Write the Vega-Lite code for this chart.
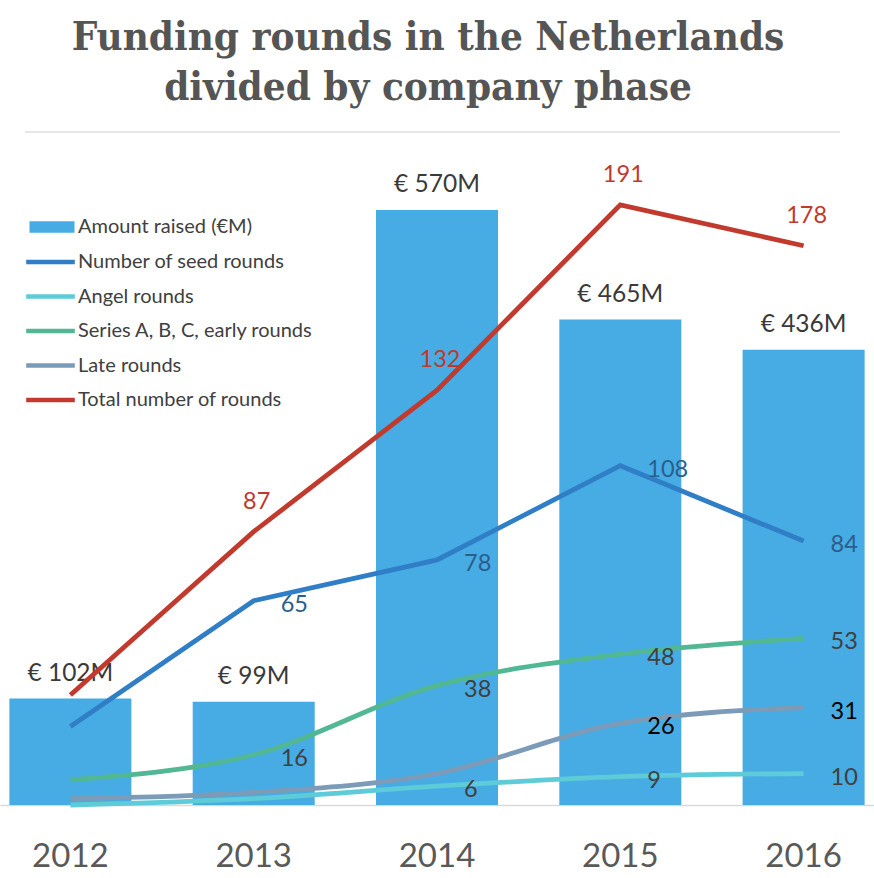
{
  "$schema": "https://vega.github.io/schema/vega-lite/v6.json",
  "autosize": "none",
  "width": 874,
  "height": 673,
  "padding": {"left": 0, "right": 0, "top": 132, "bottom": 73},
  "title": {
    "text": ["Funding rounds in the Netherlands", "divided by company phase"],
    "font": "DejaVu Serif Condensed, DejaVu Serif",
    "fontSize": 40,
    "fontWeight": "bold",
    "color": "#555555",
    "anchor": "middle",
    "frame": "group",
    "dx": -9,
    "dy": 41,
    "lineHeight": 50,
    "baseline": "alphabetic",
    "offset": 32
  },
  "datasets": {
    "amounts": [
      {"year": "2012", "amount": 102, "label": "€ 102M", "legend": "Amount raised (€M)"},
      {"year": "2013", "amount": 99, "label": "€ 99M", "legend": "Amount raised (€M)"},
      {"year": "2014", "amount": 570, "label": "€ 570M", "legend": "Amount raised (€M)"},
      {"year": "2015", "amount": 465, "label": "€ 465M", "legend": "Amount raised (€M)"},
      {"year": "2016", "amount": 436, "label": "€ 436M", "legend": "Amount raised (€M)"}
    ],
    "rounds": [
      {"year": "2012", "series": "Number of seed rounds", "value": 25},
      {"year": "2013", "series": "Number of seed rounds", "value": 65},
      {"year": "2014", "series": "Number of seed rounds", "value": 78},
      {"year": "2015", "series": "Number of seed rounds", "value": 108},
      {"year": "2016", "series": "Number of seed rounds", "value": 84},
      {"year": "2012", "series": "Angel rounds", "value": 0},
      {"year": "2013", "series": "Angel rounds", "value": 2},
      {"year": "2014", "series": "Angel rounds", "value": 6},
      {"year": "2015", "series": "Angel rounds", "value": 9},
      {"year": "2016", "series": "Angel rounds", "value": 10},
      {"year": "2012", "series": "Series A, B, C, early  rounds", "value": 8},
      {"year": "2013", "series": "Series A, B, C, early  rounds", "value": 16},
      {"year": "2014", "series": "Series A, B, C, early  rounds", "value": 38},
      {"year": "2015", "series": "Series A, B, C, early  rounds", "value": 48},
      {"year": "2016", "series": "Series A, B, C, early  rounds", "value": 53},
      {"year": "2012", "series": "Late rounds", "value": 2},
      {"year": "2013", "series": "Late rounds", "value": 4},
      {"year": "2014", "series": "Late rounds", "value": 10},
      {"year": "2015", "series": "Late rounds", "value": 26},
      {"year": "2016", "series": "Late rounds", "value": 31},
      {"year": "2012", "series": "Total number of rounds", "value": 35},
      {"year": "2013", "series": "Total number of rounds", "value": 87},
      {"year": "2014", "series": "Total number of rounds", "value": 132},
      {"year": "2015", "series": "Total number of rounds", "value": 191},
      {"year": "2016", "series": "Total number of rounds", "value": 178}
    ]
  },
  "encoding": {
    "x": {
      "field": "year",
      "type": "ordinal",
      "scale": {"paddingInner": 0.3344, "paddingOuter": 0.0512},
      "axis": {
        "title": null,
        "ticks": false,
        "tickSize": 0,
        "grid": false,
        "domainColor": "#d9d9d9",
        "domainWidth": 1.5,
        "labelAngle": 0,
        "labelFont": "Lato",
        "labelFontSize": 33,
        "labelColor": "#595959",
        "labelBaseline": "alphabetic",
        "labelPadding": 61
      }
    }
  },
  "layer": [
    {
      "data": {"values": [{}]},
      "mark": {"type": "rule", "color": "#dcdcdc", "strokeWidth": 1.5},
      "encoding": {
        "x": {"datum": "2012", "type": "ordinal", "bandPosition": 0.128},
        "x2": {"datum": "2016", "bandPosition": 0.798},
        "y": {"datum": 1, "type": "quantitative", "scale": {"domain": [0, 1]}, "axis": null}
      }
    },
    {
      "data": {"name": "amounts"},
      "mark": {"type": "bar", "color": "#46ACE3"},
      "encoding": {
        "y": {"field": "amount", "type": "quantitative", "scale": {"domain": [0, 644.7], "nice": false}, "axis": null},
        "fill": {
          "field": "legend",
          "type": "nominal",
          "scale": {"range": ["#46ACE3"]},
          "legend": {
            "title": null,
            "orient": "none",
            "legendX": 42,
            "legendY": 85,
            "padding": 0,
            "symbolType": "M-2.5,-0.65H2.5V0.65H-2.5Z",
            "symbolSize": 324,
            "symbolStrokeWidth": 0,
            "symbolOffset": 0,
            "labelOffset": 16,
            "labelFont": "Lato",
            "labelFontSize": 20,
            "labelColor": "#404040",
            "labelLimit": 400
          }
        }
      }
    },
    {
      "data": {"name": "amounts"},
      "mark": {"type": "text", "font": "Lato", "fontSize": 24.5, "color": "#3a3a3a", "baseline": "alphabetic", "dy": -18},
      "encoding": {
        "y": {"field": "amount", "type": "quantitative", "scale": {"domain": [0, 644.7], "nice": false}, "axis": null},
        "text": {"field": "label"}
      }
    },
    {
      "data": {"name": "rounds"},
      "transform": [{"filter": "datum.series == 'Number of seed rounds' || datum.series == 'Total number of rounds'"}],
      "mark": {"type": "line", "strokeWidth": 4.8, "interpolate": "linear"},
      "encoding": {
        "y": {"field": "value", "type": "quantitative", "scale": {"domain": [0, 214.2], "nice": false}, "axis": null},
        "stroke": {
          "field": "series",
          "type": "nominal",
          "scale": {
            "domain": ["Number of seed rounds", "Angel rounds", "Series A, B, C, early  rounds", "Late rounds", "Total number of rounds"],
            "range": ["#2F7EC6", "#5DCCD8", "#52B793", "#7B9BB8", "#C23A2D"]
          },
          "legend": {
            "title": null,
            "orient": "none",
            "legendX": 39,
            "legendY": 118.5,
            "padding": 0,
            "symbolType": "M-2.7,0H2.7",
            "symbolSize": 324,
            "symbolStrokeWidth": 4.5,
            "symbolFillColor": "transparent",
            "symbolOffset": 0,
            "labelOffset": 16,
            "rowPadding": 12.5,
            "labelFont": "Lato",
            "labelFontSize": 20,
            "labelColor": "#404040",
            "labelLimit": 400
          }
        }
      }
    },
    {
      "data": {"name": "rounds"},
      "transform": [{"filter": "datum.series != 'Number of seed rounds' && datum.series != 'Total number of rounds'"}],
      "mark": {"type": "line", "strokeWidth": 4.8, "interpolate": "monotone"},
      "encoding": {
        "y": {"field": "value", "type": "quantitative", "scale": {"domain": [0, 214.2], "nice": false}, "axis": null},
        "stroke": {"field": "series", "type": "nominal"}
      }
    },
    {
      "data": {"name": "rounds"},
      "transform": [{"filter": "datum.series == 'Total number of rounds' && datum.year != '2012'"}],
      "mark": {"type": "text", "font": "Lato", "fontSize": 23.5, "color": "#C0392B", "baseline": "alphabetic", "align": "center", "dx": 3, "dy": -23},
      "encoding": {
        "y": {"field": "value", "type": "quantitative", "scale": {"domain": [0, 214.2], "nice": false}, "axis": null},
        "text": {"field": "value", "type": "quantitative"}
      }
    },
    {
      "data": {"name": "rounds"},
      "transform": [
        {"filter": "datum.series != 'Total number of rounds' && datum.year != '2012'"},
        {"filter": "!(datum.series == 'Late rounds' && (datum.year == '2013' || datum.year == '2014'))"},
        {"filter": "!(datum.series == 'Angel rounds' && datum.year == '2013')"}
      ],
      "mark": {"type": "text", "font": "Lato", "fontSize": 23.5, "baseline": "alphabetic", "align": "left", "dx": 27, "dy": 11},
      "encoding": {
        "y": {"field": "value", "type": "quantitative", "scale": {"domain": [0, 214.2], "nice": false}, "axis": null},
        "text": {"field": "value", "type": "quantitative"},
        "color": {
          "field": "series",
          "type": "nominal",
          "scale": {
            "domain": ["Number of seed rounds", "Angel rounds", "Series A, B, C, early  rounds", "Late rounds"],
            "range": ["#2B5E8C", "#404040", "#404040", "#000000"]
          },
          "legend": null
        }
      }
    }
  ],
  "resolve": {"scale": {"y": "independent"}},
  "config": {"view": {"stroke": null}}
}
